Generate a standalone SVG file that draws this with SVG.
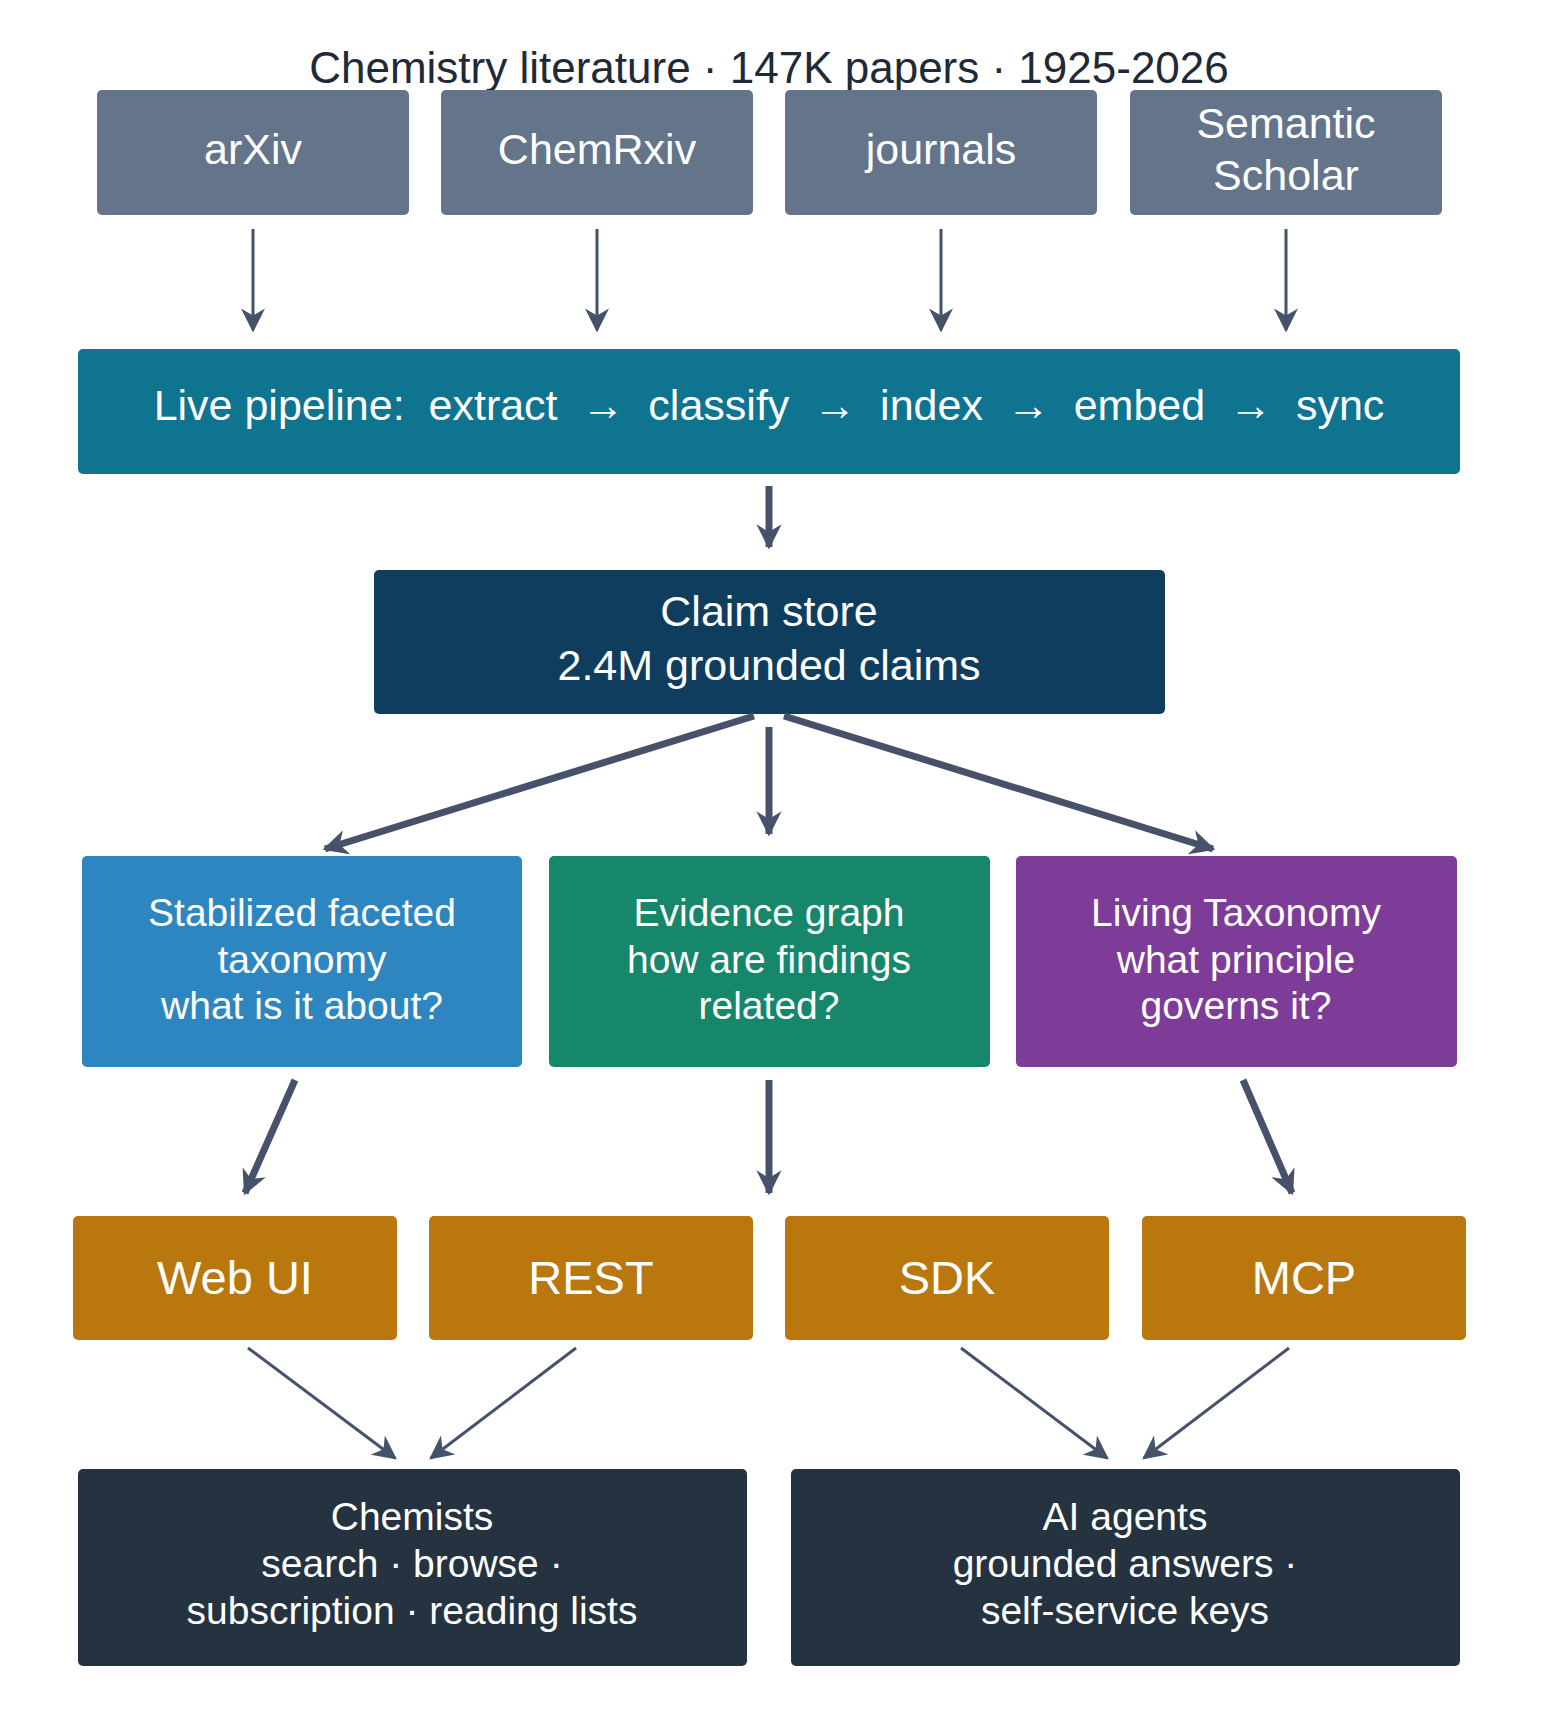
<svg xmlns="http://www.w3.org/2000/svg" width="1554" height="1729" viewBox="0 0 1554 1729">
<defs>
<marker id="ah" viewBox="0 0 10 10" refX="9" refY="5" markerWidth="5" markerHeight="5" orient="auto" markerUnits="strokeWidth"><path d="M0,0 L10,5 L0,10 L3,5 z" fill="#46526a"/></marker>
<marker id="ah2" viewBox="0 0 10 10" refX="9" refY="5" markerWidth="3.6" markerHeight="3.6" orient="auto" markerUnits="strokeWidth"><path d="M0,0 L10,5 L0,10 L3,5 z" fill="#46526a"/></marker>
<marker id="ah3" viewBox="0 0 10 10" refX="9" refY="5" markerWidth="8" markerHeight="8" orient="auto" markerUnits="strokeWidth"><path d="M0,0 L10,5 L0,10 L3,5 z" fill="#46526a"/></marker>
</defs>
<style>
text{font-family:"Liberation Sans",Arial,sans-serif;fill:#fff;text-anchor:middle}
.t{fill:#1f2937;font-size:44px}
.s{font-size:43px}.m{font-size:39px}.b{font-size:47px}
.c1{stroke:#46526a;stroke-width:3;fill:none;marker-end:url(#ah3)}
.c2{stroke:#46526a;stroke-width:7;fill:none;marker-end:url(#ah2)}
.c3{stroke:#46526a;stroke-width:3;fill:none;marker-end:url(#ah3)}
</style>
<rect width="1554" height="1729" fill="#fff"/>
<text class="t" x="769" y="83">Chemistry literature  ·  147K papers  ·  1925-2026</text>
<g id="arxiv"><rect x="97" y="90" width="312" height="125" rx="5" fill="#64748b"/><text class="s" x="253" y="164">arXiv</text></g>
<g id="chemrxiv"><rect x="441" y="90" width="312" height="125" rx="5" fill="#64748b"/><text class="s" x="597" y="164">ChemRxiv</text></g>
<g id="journals"><rect x="785" y="90" width="312" height="125" rx="5" fill="#64748b"/><text class="s" x="941" y="164">journals</text></g>
<g id="semantic"><rect x="1130" y="90" width="312" height="125" rx="5" fill="#64748b"/><text class="s" x="1286" y="138">Semantic</text><text class="s" x="1286" y="190">Scholar</text></g>
<g id="pipeline"><rect x="78" y="349" width="1382" height="125" rx="5" fill="#0e7490"/><text class="s" x="769" y="420" xml:space="preserve">Live pipeline:  extract  →  classify  →  index  →  embed  →  sync</text></g>
<g id="claims"><rect x="374" y="570" width="791" height="144" rx="5" fill="#0f3d5e"/><text class="s" x="769" y="626">Claim store</text><text class="s" x="769" y="680">2.4M grounded claims</text></g>
<g id="facet"><rect x="82" y="856" width="440" height="211" rx="5" fill="#2e86c1"/><text class="m" x="302" y="926">Stabilized faceted</text><text class="m" x="302" y="973">taxonomy</text><text class="m" x="302" y="1019">what is it about?</text></g>
<g id="evidence"><rect x="549" y="856" width="441" height="211" rx="5" fill="#16876b"/><text class="m" x="769" y="926">Evidence graph</text><text class="m" x="769" y="973">how are findings</text><text class="m" x="769" y="1019">related?</text></g>
<g id="living"><rect x="1016" y="856" width="441" height="211" rx="5" fill="#7d3c98"/><text class="m" x="1236" y="926">Living Taxonomy</text><text class="m" x="1236" y="973">what principle</text><text class="m" x="1236" y="1019">governs it?</text></g>
<g id="webui"><rect x="73" y="1216" width="324" height="124" rx="5" fill="#b9770e"/><text class="b" x="235" y="1294">Web UI</text></g>
<g id="rest"><rect x="429" y="1216" width="324" height="124" rx="5" fill="#b9770e"/><text class="b" x="591" y="1294">REST</text></g>
<g id="sdk"><rect x="785" y="1216" width="324" height="124" rx="5" fill="#b9770e"/><text class="b" x="947" y="1294">SDK</text></g>
<g id="mcp"><rect x="1142" y="1216" width="324" height="124" rx="5" fill="#b9770e"/><text class="b" x="1304" y="1294">MCP</text></g>
<g id="chemists"><rect x="78" y="1469" width="669" height="197" rx="5" fill="#253240"/><text class="m" x="412" y="1530">Chemists</text><text class="m" x="412" y="1577">search · browse ·</text><text class="m" x="412" y="1624">subscription · reading lists</text></g>
<g id="agents"><rect x="791" y="1469" width="669" height="197" rx="5" fill="#253240"/><text class="m" x="1125" y="1530">AI agents</text><text class="m" x="1125" y="1577">grounded answers ·</text><text class="m" x="1125" y="1624">self-service keys</text></g>
<g id="connectors">
<path class="c1" d="M253 229 V330"/><path class="c1" d="M597 229 V330"/><path class="c1" d="M941 229 V330"/><path class="c1" d="M1286 229 V330"/>
<path class="c2" d="M769 486 V547"/>
<path class="c2" d="M754 716 L325 849"/><path class="c2" d="M769 727 V834"/><path class="c2" d="M784 716 L1213 849"/>
<path class="c2" d="M295 1080 L245 1193"/><path class="c2" d="M769 1080 V1193"/><path class="c2" d="M1243 1080 L1292 1193"/>
<path class="c3" d="M248 1348 L395 1458"/><path class="c3" d="M576 1348 L431 1458"/><path class="c3" d="M961 1348 L1107 1458"/><path class="c3" d="M1289 1348 L1144 1458"/>
</g>
</svg>
